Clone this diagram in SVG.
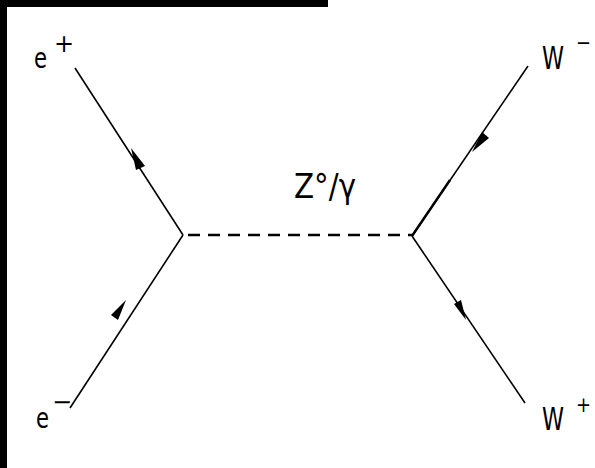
<svg xmlns="http://www.w3.org/2000/svg" width="595" height="468" viewBox="0 0 595 468">
<style>
.ln{stroke:#000;stroke-width:1.6;fill:none}
.dash{stroke:#000;stroke-width:2.5;stroke-dasharray:12 8;fill:none}
.lbl{font-family:"DejaVu Sans","Liberation Sans",sans-serif;fill:#000}
.arr{fill:#000}
</style>
<rect x="0" y="0" width="595" height="468" fill="#fff"/>
<rect x="0" y="0" width="328" height="7" fill="#000"/>
<rect x="0" y="0" width="7" height="468" fill="#000"/>
<g id="connectors">
<line class="ln" x1="75" y1="68" x2="183" y2="235"/>
<line class="ln" x1="183" y1="235" x2="70" y2="408"/>
<line class="dash" x1="188" y1="235" x2="412" y2="235"/>
<line class="ln" x1="412" y1="236" x2="528" y2="66"/>
<line class="ln" x1="412" y1="236" x2="525" y2="403"/>
<line x1="412" y1="236" x2="450" y2="180" stroke="#000" stroke-width="2.4"/>
<polygon class="arr" points="131,148 145,166 136,170"/>
<polygon class="arr" points="126,300 118,320 111,315"/>
<polygon class="arr" points="472,152 482,132 489,138"/>
<polygon class="arr" points="466,320 454,304 461,300"/>
</g>
<g id="e-plus"><text class="lbl" x="34" y="68" font-size="28" textLength="13" lengthAdjust="spacingAndGlyphs">e</text><text class="lbl" x="54" y="52" font-size="24">+</text></g>
<g id="e-minus"><text class="lbl" x="36" y="428" font-size="28" textLength="13" lengthAdjust="spacingAndGlyphs">e</text><text class="lbl" x="52" y="410" font-size="24">−</text></g>
<g id="w-minus"><text class="lbl" x="542" y="69" font-size="32" textLength="22" lengthAdjust="spacingAndGlyphs">W</text><text class="lbl" x="576" y="50" font-size="22" textLength="15" lengthAdjust="spacingAndGlyphs">−</text></g>
<g id="w-plus"><text class="lbl" x="542" y="430" font-size="32" textLength="22" lengthAdjust="spacingAndGlyphs">W</text><text class="lbl" x="576" y="412" font-size="22" textLength="15" lengthAdjust="spacingAndGlyphs">+</text></g>
<g id="z-gamma"><text class="lbl" x="294" y="198" font-size="34" textLength="62" lengthAdjust="spacingAndGlyphs">Z°/γ</text></g>
</svg>
